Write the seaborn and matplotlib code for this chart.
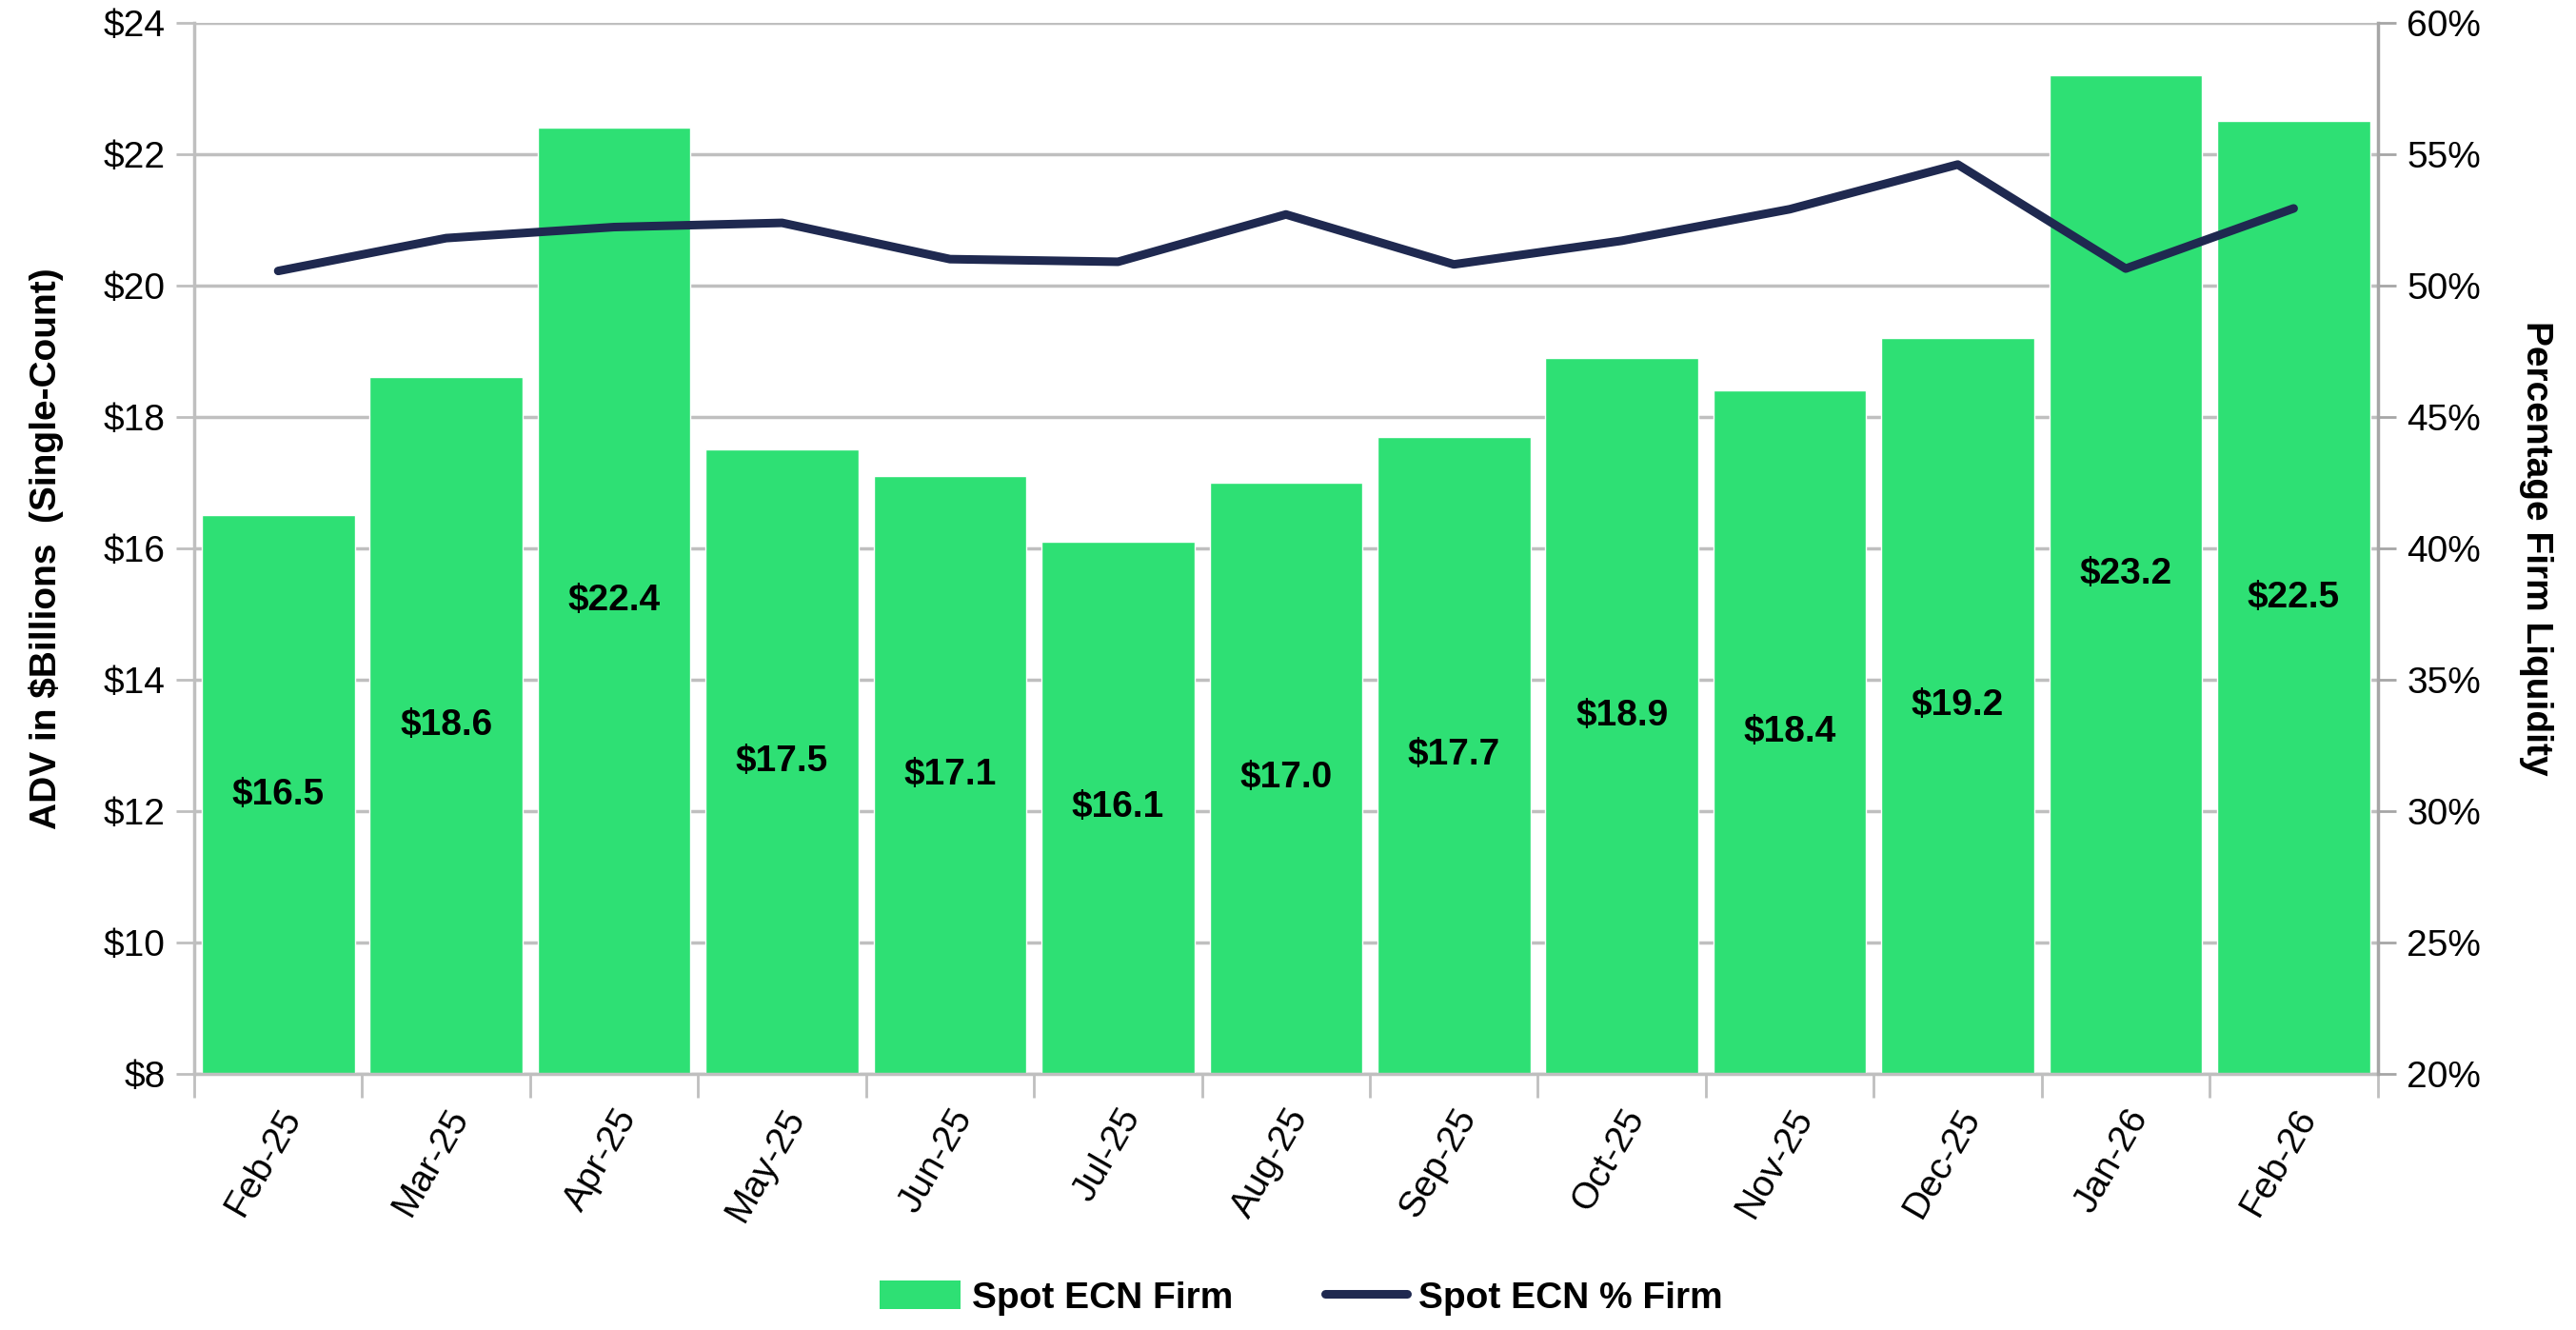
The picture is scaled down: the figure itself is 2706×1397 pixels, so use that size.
import numpy as np
import pandas as pd
import matplotlib
matplotlib.use('Agg')
import matplotlib.pyplot as plt
import seaborn as sns
from matplotlib.ticker import FuncFormatter, MultipleLocator, FixedLocator
from matplotlib.patches import Patch
from matplotlib.lines import Line2D

months = ['Feb-25', 'Mar-25', 'Apr-25', 'May-25', 'Jun-25', 'Jul-25', 'Aug-25',
          'Sep-25', 'Oct-25', 'Nov-25', 'Dec-25', 'Jan-26', 'Feb-26']
adv_firm = [16.5, 18.6, 22.4, 17.5, 17.1, 16.1, 17.0, 17.7, 18.9, 18.4, 19.2, 23.2, 22.5]
pct_firm = [50.55, 51.8, 52.22, 52.38, 51.0, 50.9, 52.7, 50.8, 51.7, 52.9, 54.6, 50.64, 52.93]

bar_color = '#2EE074'
line_color = '#1F2950'
grid_color = '#BFBFBF'

df = pd.DataFrame({'month': months, 'adv': adv_firm, 'pct': pct_firm})
df['pos'] = np.arange(len(df))

sns.set_style('white')
plt.rcParams['font.family'] = ['Liberation Sans', 'DejaVu Sans']
plt.rcParams['text.color'] = 'black'
plt.rcParams['axes.labelcolor'] = 'black'
plt.rcParams['xtick.labelcolor'] = 'black'
plt.rcParams['ytick.labelcolor'] = 'black'

fig = plt.figure(figsize=(27.06, 13.97), dpi=100)
ax = fig.add_axes([0.0754, 0.1926, 0.8476, 0.7904])

sns.barplot(data=df, x='month', y='adv', color=bar_color, width=0.91,
            saturation=1, ax=ax, zorder=2)
ax.set_ylim(8, 24)
ax.set_xlim(-0.5, len(months) - 0.5)
ax.yaxis.set_major_locator(MultipleLocator(2))
ax.yaxis.set_major_formatter(FuncFormatter(lambda v, p: f'${v:.0f}'))
ax.grid(axis='y', color=grid_color, linewidth=2.5, zorder=0)
ax.set_axisbelow(True)

# bar labels in the middle of each bar
for p, v in zip(ax.patches, adv_firm):
    ax.text(p.get_x() + p.get_width() / 2, (8 + v) / 2, f'${v:.1f}',
            ha='center', va='center', fontsize=28, fontweight='bold', color='black', zorder=5)

ax.set_xlabel('')
ax.set_ylabel('ADV in $Billions  (Single-Count)', fontsize=28, fontweight='bold', labelpad=30)
ax.set_xticks(range(len(months)))
ax.set_xticklabels(months, rotation=60, ha='right', rotation_mode='anchor', fontsize=28)
ax.xaxis.set_minor_locator(FixedLocator(np.arange(-0.5, len(months), 1)))
ax.tick_params(axis='x', which='major', length=0, pad=22)
ax.tick_params(axis='x', which='minor', length=18, width=2, color=grid_color, direction='out')
ax.tick_params(axis='y', length=14, width=2, color=grid_color, direction='out', labelsize=28, pad=8)
ax.xaxis.set_tick_params(which='minor', bottom=True)

for s in ['left', 'bottom']:
    ax.spines[s].set_color(grid_color)
    ax.spines[s].set_linewidth(2.5)
ax.spines['top'].set_visible(False)
ax.spines['right'].set_visible(False)

ax2 = ax.twinx()
sns.lineplot(data=df, x='pos', y='pct', color=line_color, linewidth=6.5,
             sort=False, ax=ax2, legend=False, solid_capstyle='round', zorder=6)
ax2.set_ylim(20, 60)
ax2.yaxis.set_major_locator(MultipleLocator(5))
ax2.yaxis.set_major_formatter(FuncFormatter(lambda v, p: f'{v:.0f}%'))
ax2.set_ylabel('Percentage Firm Liquidity', fontsize=28, fontweight='bold',
               rotation=270, labelpad=55)
ax2.set_xlabel('')
ax2.tick_params(axis='y', length=14, width=2, color='#A6A6A6', direction='out', labelsize=28, pad=8)
ax2.grid(False)
for s in ['left', 'bottom', 'top']:
    ax2.spines[s].set_visible(False)
ax2.spines['right'].set_color('#A6A6A6')
ax2.spines['right'].set_linewidth(2.5)
ax2.set_xlim(-0.5, len(months) - 0.5)

handles = [Patch(facecolor=bar_color, edgecolor='none', label='Spot ECN Firm'),
           Line2D([0], [0], color=line_color, linewidth=6.5, label='Spot ECN % Firm')]
leg = fig.legend(handles=handles, loc='center', bbox_to_anchor=(0.505, 0.024), ncol=2,
                 frameon=False, handlelength=2.2, handleheight=0.8, columnspacing=2.5,
                 handletextpad=0.3,
                 prop={'family': ['Liberation Sans', 'DejaVu Sans'], 'weight': 'bold', 'size': 28})

fig.savefig('out.png', dpi=100)
